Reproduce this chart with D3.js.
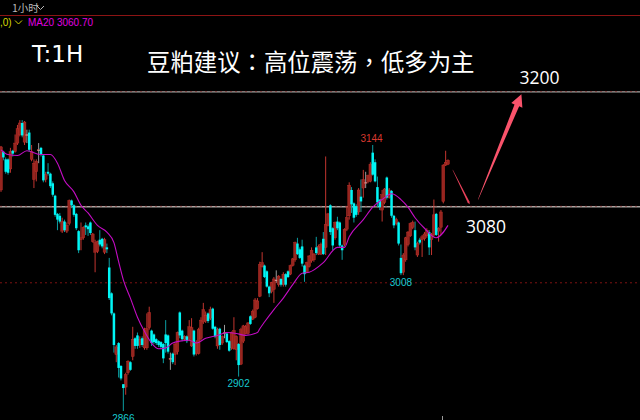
<!DOCTYPE html>
<html>
<head>
<meta charset="utf-8">
<script src="https://cdn.jsdelivr.net/npm/d3@7"></script>
<style>
  html, body { margin: 0; padding: 0; background: #000; }
  svg { display: block; }
</style>
</head>
<body>
<div id="chart"></div>
<script>
const opens = [
  3097,3137,3129,3129,3119,3138,3137,3146,3155,3167,
  3147,3155,3157,3129,3108,3116,3139,3141,3133,3108,
  3116,3114,3104,3091,3072,3070,3054,3064,3054,3062,
  3086,3081,3072,3054,3045,3047,3060,3059,3063,3043,
  3032,3033,3045,3046,3032,3037,3016,2989,2968,2925,
  2937,2913,2894,2891,2906,2917,2923,2942,2945,2935,
  2942,2932,2932,2953,2950,2946,2941,2939,2938,2936,
  2946,2945,2921,2926,2925,2928,2969,2950,2941,2944,
  2941,2934,2950,2926,2926,2942,2959,2960,2968,2963,
  2973,2954,2934,2952,2937,2948,2947,2939,2932,2931,
  2930,2936,2915,2939,2947,2947,2965,2962,2964,2973,
  2986,3017,3018,3012,2996,2991,2993,3003,2998,3004,
  2998,3009,3012,3009,3018,3024,3041,3035,3038,3018,
  3011,3017,3023,3024,3037,3030,3030,3046,3037,3060,
  3081,3057,3047,3064,3063,3039,3040,3056,3070,3097,
  3083,3080,3074,3090,3099,3105,3106,3106,3136,3126,
  3100,3087,3076,3084,3110,3089,3096,3070,3062,3063,
  3026,3011,3024,3040,3049,3058,3055,3029,3045,3045,
  3046,3049,3053,3045,3050,3072,3054,3058,3085,3123,3124
];
const highs = [
  3143,3138,3131,3130,3141,3139,3155,3165,3170,3170,
  3169,3160,3160,3144,3129,3129,3146,3142,3134,3116,
  3125,3115,3106,3092,3073,3073,3068,3066,3063,3087,
  3087,3082,3073,3055,3063,3059,3063,3061,3064,3052,
  3045,3044,3055,3047,3047,3041,3026,2990,2969,2935,
  2938,2914,2894,2906,2919,2918,2954,2943,2948,2944,
  2944,2953,2968,2975,2951,2947,2942,2940,2939,2937,
  2961,2946,2927,2927,2937,2949,2970,2951,2945,2945,
  2961,2963,2951,2940,2953,2964,2979,2970,2969,2975,
  2974,2955,2953,2953,2945,2956,2948,2940,2949,2964,
  2945,2937,2953,2956,2956,2959,2966,2972,2984,2984,
  3022,3032,3019,3013,2997,3001,3006,3013,3008,3005,
  3011,3010,3013,3019,3026,3043,3047,3037,3045,3019,
  3022,3029,3037,3031,3048,3040,3042,3053,3132,3073,
  3082,3058,3064,3069,3064,3040,3057,3080,3105,3100,
  3084,3082,3099,3108,3118,3116,3113,3126,3144,3129,
  3111,3087,3097,3099,3111,3099,3097,3071,3068,3064,
  3040,3031,3048,3054,3063,3065,3064,3043,3047,3050,
  3053,3057,3055,3052,3087,3073,3058,3076,3124,3138,3129
];
const lows = [
  3095,3128,3114,3113,3115,3132,3136,3144,3153,3152,
  3144,3146,3137,3127,3099,3106,3125,3132,3105,3105,
  3112,3099,3090,3069,3055,3062,3052,3053,3052,3060,
  3078,3069,3055,3031,3034,3045,3050,3049,3050,3042,
  3011,3031,3038,3036,3030,3031,2982,2966,2927,2917,
  2901,2898,2866,2883,2904,2908,2919,2931,2931,2932,
  2933,2930,2930,2951,2934,2936,2935,2933,2931,2916,
  2927,2926,2909,2915,2914,2925,2942,2939,2939,2937,
  2939,2933,2923,2924,2925,2940,2957,2958,2958,2961,
  2951,2942,2931,2930,2935,2942,2937,2928,2930,2930,
  2919,2902,2914,2937,2946,2946,2956,2961,2963,2972,
  2985,3016,3005,2995,2985,2989,2979,3000,2996,2996,
  2996,2996,3005,3008,3017,3022,3029,3025,3017,3001,
  3010,3016,3021,3022,3029,3029,3029,3029,3029,3059,
  3050,3034,3045,3055,3037,3024,3038,3054,3066,3073,
  3063,3069,3071,3074,3089,3099,3104,3105,3112,3105,
  3079,3076,3064,3082,3087,3088,3068,3057,3060,3039,
  3008,3008,3022,3038,3048,3056,3034,3027,3040,3027,
  3044,3047,3029,3029,3048,3049,3043,3050,3083,3122,3123
];
const closes = [
  3142,3131,3116,3115,3137,3135,3146,3161,3167,3154,
  3168,3155,3139,3137,3125,3127,3139,3134,3107,3113,
  3114,3101,3092,3071,3066,3064,3064,3055,3060,3086,
  3081,3071,3057,3034,3047,3058,3058,3056,3052,3051,
  3042,3043,3040,3038,3045,3035,2984,2968,2935,2933,
  2911,2900,2890,2904,2918,2909,2941,2934,2934,2941,
  2935,2950,2952,2969,2937,2938,2937,2935,2933,2921,
  2937,2928,2921,2917,2936,2948,2945,2941,2944,2939,
  2954,2953,2925,2938,2951,2961,2972,2966,2960,2972,
  2952,2944,2951,2935,2944,2948,2938,2929,2948,2950,
  2944,2914,2951,2955,2954,2958,2957,2970,2982,2981,
  3019,3021,3006,2996,2989,3000,3004,3003,3007,2998,
  3009,2998,3006,3018,3025,3042,3030,3026,3020,3009,
  3021,3028,3034,3030,3031,3038,3040,3030,3061,3072,
  3053,3039,3063,3057,3039,3034,3056,3068,3102,3082,
  3068,3071,3097,3085,3108,3105,3112,3124,3113,3106,
  3084,3079,3092,3098,3089,3097,3070,3060,3066,3041,
  3010,3029,3047,3053,3062,3063,3037,3041,3042,3048,
  3051,3055,3037,3050,3071,3050,3057,3074,3123,3126,3128
];

// MA20 at these bar numbers
const maIndex = [0,3,7,11,17,21,24,27,31,34,37,41,45,48,50,52,55,58,61,64,67,70,73,76,80,83,87,92,96,100,104,109,110,112,116,120,124,128,131,137,143,146,148,154,158,162,166,170,173,176,180,185,190];
const maValues = [3139,3134,3133,3138,3134,3134,3125,3107,3095,3081,3073,3060,3053,3042,3022,3003,2984,2964,2949,2937,2931,2932,2937,2939,2940,2937,2942,2945,2948,2947,2945,2948,2952,2959,2972,2984,2998,3010,3011,3021,3037,3037,3048,3066,3079,3087,3093,3087,3079,3068,3057,3047,3060];

const levels = [3200, 3080];
const dashedLevel = 3000;
const peakLabels = [
  {text: "3144", bar: 157.5, price: 3144, color: "#d8392f"},
  {text: "3008", bar: 170, price: 3008, color: "#17c9cf"},
  {text: "2902", bar: 101, price: 2902, color: "#17c9cf"},
  {text: "2866", bar: 52, price: 2866, color: "#17c9cf"}
];
// hand drawn arrows, [bar, price] tail then tip
const smallArrow = [[192, 3118], [199.2, 3082]];
const bigArrow = [[202.8, 3087], [221.2, 3197]];

const width = 640, height = 420;
const svg = d3.select("#chart").append("svg")
  .attr("width", width)
  .attr("height", height)
  .style("background", "#000");

const x = d3.scaleLinear().domain([0, 190]).range([1, 448]);
const y = d3.scaleLinear().domain([3144, 2866]).range([145, 411]);

const cjk = "'Noto Sans CJK TC', sans-serif";
const small = "'Liberation Sans', sans-serif";

// top rule and header
svg.append("line").attr("x1", 0).attr("x2", width).attr("y1", 15.5).attr("y2", 15.5)
  .attr("stroke", "#8c1414").attr("stroke-width", 1);
svg.append("text").attr("x", 12).attr("y", 12).attr("fill", "#b9b9b9")
  .style("font", "10.5px 'Noto Sans CJK SC', sans-serif").text("1小时");
svg.append("path").attr("d", d3.line()([[37, 6], [40.5, 9.5], [44, 6]]))
  .attr("fill", "none").attr("stroke", "#b9b9b9");
svg.append("text").attr("x", 0).attr("y", 26).attr("fill", "#d8d800")
  .style("font", "10px " + small).text(",0)");
svg.append("path").attr("d", d3.line()([[15, 20.5], [18.5, 24], [22, 20.5]]))
  .attr("fill", "none").attr("stroke", "#d8d800");
svg.append("text").attr("x", 28).attr("y", 26).attr("fill", "#e000e0")
  .style("font", "10px " + small).text("MA20 3060.70");

// price levels
levels.forEach(function(p) {
  svg.append("line").attr("x1", 0).attr("x2", width).attr("y1", y(p) + 0.5).attr("y2", y(p) + 0.5)
    .attr("stroke", "#a9a5a2").attr("stroke-width", 1.3);
  svg.append("line").attr("x1", 0).attr("x2", width).attr("y1", y(p)).attr("y2", y(p))
    .attr("stroke", "#8c2020").attr("stroke-width", 0.6).attr("stroke-dasharray", "2,3");
});
svg.append("line").attr("x1", 0).attr("x2", width).attr("y1", y(dashedLevel)).attr("y2", y(dashedLevel))
  .attr("stroke", "#7c1212").attr("stroke-width", 1).attr("stroke-dasharray", "2,3");

// candles
const candles = closes.map(function(c, i) {
  return {i: i, o: opens[i], h: highs[i], l: lows[i], c: c};
});
function wickColor(d) {
  if (d.c === d.o) return "#9a9a9a";
  return d.c > d.o ? "#c2352f" : "#0c9ea2";
}
function bodyColor(d) {
  if (d.c === d.o) return "#e4e4e4";
  return d.c > d.o ? "#96251f" : "#00f6f6";
}
svg.append("g").selectAll("line").data(candles).join("line")
  .attr("x1", d => x(d.i)).attr("x2", d => x(d.i))
  .attr("y1", d => y(d.h)).attr("y2", d => y(d.l))
  .attr("stroke", wickColor).attr("stroke-width", 1);
svg.append("g").selectAll("rect").data(candles.filter(d => d.c >= d.o)).join("rect")
  .attr("x", d => x(d.i) - 1.4)
  .attr("width", 2.8)
  .attr("y", d => y(d.c))
  .attr("height", d => Math.max(1, y(d.o) - y(d.c)))
  .attr("fill", bodyColor)
  .attr("stroke", "#c9332c")
  .attr("stroke-width", 0.4);
svg.append("g").selectAll("rect").data(candles.filter(d => d.c < d.o)).join("rect")
  .attr("x", d => x(d.i) - 1.25)
  .attr("width", 2.5)
  .attr("y", d => y(d.o))
  .attr("height", d => Math.max(1, y(d.c) - y(d.o)))
  .attr("fill", bodyColor);

// stray tick at the foot of the last bars
svg.append("line").attr("x1", 442.5).attr("x2", 442.5).attr("y1", 416).attr("y2", 420)
  .attr("stroke", "#9a9a9a");

// MA20
const maLine = d3.line()
  .x(function(d, i) { return x(maIndex[i]); })
  .y(function(d) { return y(d); })
  .curve(d3.curveMonotoneX);
svg.append("path").datum(maValues)
  .attr("fill", "none")
  .attr("stroke", "#c40cc4")
  .attr("stroke-width", 1.1)
  .attr("d", maLine);

// high / low labels
svg.append("g").selectAll("text").data(peakLabels).join("text")
  .attr("x", d => x(d.bar))
  .attr("y", function(d) { return d.color === "#d8392f" ? y(d.price) - 3.5 : y(d.price) + 10.5; })
  .attr("text-anchor", "middle")
  .attr("fill", d => d.color)
  .style("font", "10px " + small)
  .text(d => d.text);

// arrows
function arrowPath(a, tailW, neckW, headW, headLen) {
  const x0 = x(a[0][0]), y0 = y(a[0][1]), x1 = x(a[1][0]), y1 = y(a[1][1]);
  const len = Math.hypot(x1 - x0, y1 - y0);
  const ux = (x1 - x0) / len, uy = (y1 - y0) / len;
  const nx = -uy, ny = ux;
  const bx = x1 - ux * headLen, by = y1 - uy * headLen;
  return d3.line()([
    [x0 + nx * tailW / 2, y0 + ny * tailW / 2],
    [bx + nx * neckW / 2, by + ny * neckW / 2],
    [bx + nx * headW / 2, by + ny * headW / 2],
    [x1, y1],
    [bx - nx * headW / 2, by - ny * headW / 2],
    [bx - nx * neckW / 2, by - ny * neckW / 2],
    [x0 - nx * tailW / 2, y0 - ny * tailW / 2]
  ]) + "Z";
}
svg.append("path").attr("d", arrowPath(smallArrow, 0.3, 2, 2.6, 3)).attr("fill", "#e8405a");
svg.append("path").attr("d", arrowPath(bigArrow, 0.4, 5, 12, 12)).attr("fill", "#f9536b");

// annotations
svg.append("text").attr("x", 32).attr("y", 62).attr("fill", "#fff")
  .style("font", "23px 'DejaVu Sans', sans-serif").text("T:1H");
svg.append("text").attr("x", 147).attr("y", 70.5).attr("fill", "#fff")
  .style("font", "23.4px " + cjk).text("豆粕建议：高位震荡，低多为主");
svg.append("text").attr("x", 519.5).attr("y", 84).attr("fill", "#fff")
  .style("font", "17.5px 'Open Sans', sans-serif").text("3200");
svg.append("text").attr("x", 466).attr("y", 233).attr("fill", "#fff")
  .style("font", "17.5px 'Open Sans', sans-serif").text("3080");
</script>
</body>
</html>
